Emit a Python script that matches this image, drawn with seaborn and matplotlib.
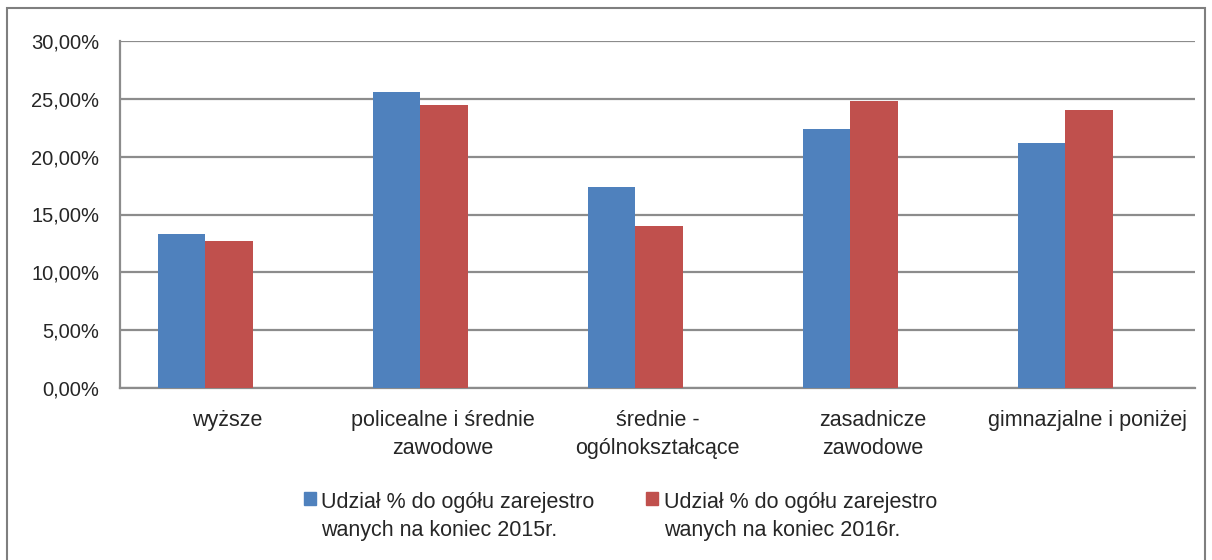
import numpy as np
import pandas as pd
import matplotlib
matplotlib.use("Agg")
import matplotlib.pyplot as plt
import matplotlib.ticker as mticker
from matplotlib.patches import Rectangle
from matplotlib.legend_handler import HandlerPatch
import seaborn as sns

# Data
categories = ["wyższe", "policealne i średnie\nzawodowe", "średnie -\nogólnokształcące",
              "zasadnicze\nzawodowe", "gimnazjalne i poniżej"]
share_2015 = [13.3, 25.6, 17.4, 22.4, 21.2]
share_2016 = [12.7, 24.5, 14.0, 24.8, 24.0]
series = ["Udział % do ogółu zarejestro\nwanych na koniec 2015r.",
          "Udział % do ogółu zarejestro\nwanych na koniec 2016r."]
colors = ["#4F81BD", "#C0504D"]

df = pd.DataFrame({
    "kategoria": categories * 2,
    "udzial": share_2015 + share_2016,
    "seria": [series[0]] * 5 + [series[1]] * 5,
})

sns.set_style("white")
plt.rcParams["font.family"] = ["Liberation Sans", "DejaVu Sans"]
grid_col = "#8C8C8C"

fig = plt.figure(figsize=(12.12, 5.6), dpi=100)
ax = fig.add_axes([120 / 1212, 1 - 388 / 560, 1075 / 1212, 347 / 560])

sns.barplot(data=df, x="kategoria", y="udzial", hue="seria", palette=colors,
            width=0.442, gap=0, ax=ax, legend=False, saturation=1,
            linewidth=0, zorder=3)

# excel draws the bar groups a bit left of the category centre
shift = 0.104
ax.set_ylim(0, 30)
ax.set_xlim(-0.5 + shift, 4.5 + shift)
ax.yaxis.set_major_locator(mticker.MultipleLocator(5))
ax.yaxis.set_major_formatter(mticker.FuncFormatter(lambda v, p: f"{v:.2f}%".replace(".", ",")))
ax.grid(axis="y", color=grid_col, linewidth=1.6, zorder=0)
ax.set_axisbelow(True)
for s in ["top", "right"]:
    ax.spines[s].set_visible(False)
for s in ["left", "bottom"]:
    ax.spines[s].set_color(grid_col)
    ax.spines[s].set_linewidth(1.6)

ax.set_xlabel("")
ax.set_ylabel("")
ax.tick_params(axis="y", length=5, width=1.6, color=grid_col, labelsize=14.5, pad=10)
ax.set_xticks(np.arange(-0.5, 5, 1) + shift, minor=True)
ax.tick_params(axis="x", which="minor", length=5, width=1.6, color=grid_col)
ax.tick_params(axis="x", which="major", length=0, labelsize=15.5, pad=16)
ax.set_xticks(np.arange(5) + shift)
ax.set_xticklabels(categories, linespacing=1.45)


def top_square(legend, orig_handle, xdescent, ydescent, width, height, fontsize):
    return Rectangle((-xdescent, -ydescent + 0.85 * fontsize), width, height)


handles = [plt.Rectangle((0, 0), 1, 1, color=c) for c in colors]
fig.legend(handles, series, ncol=2, loc="center", bbox_to_anchor=(0.512, 0.078),
           frameon=False, fontsize=15.5, handlelength=0.55, handleheight=0.55,
           handletextpad=0.25, columnspacing=2.4,
           handler_map={Rectangle: HandlerPatch(patch_func=top_square)})
for t in fig.legends[0].get_texts():
    t.set_linespacing(1.45)

fig.patches.append(Rectangle((7 / 1212, -0.05), 1198 / 1212, 1 - 8 / 560 + 0.05,
                             transform=fig.transFigure, fill=False,
                             edgecolor="#7F7F7F", linewidth=1.5))

fig.savefig("out.png", dpi=100)
